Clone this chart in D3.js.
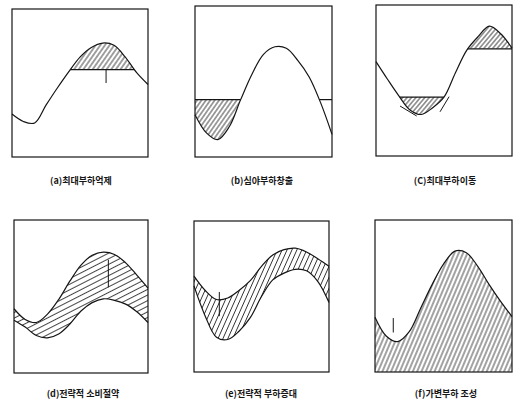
<!DOCTYPE html>
<html><head><meta charset="utf-8">
<script src="https://cdn.jsdelivr.net/npm/d3@7"></script>
<style>html,body{margin:0;padding:0;background:#fff;} svg{display:block}</style>
</head><body>
<svg id="c" width="515" height="402"></svg>
<script>
// ---- data (hour of day, relative load 0..1) ----
const hours = [0,2,4,6,8,10,12,14,16,18,20,22,24];
const labels = ["(a)최대부하억제","(b)심야부하창출","(C)최대부하이동","(d)전략적 소비절약","(e)전략적 부하증대","(f)가변부하 조성"];
const loadA = [0.29,0.24,0.23,0.35,0.466,0.575,0.675,0.74,0.77,0.755,0.675,0.57,0.49];
const levelA = [0.59];
const loadB = [0.28,0.16,0.115,0.2,0.38,0.55,0.68,0.73,0.72,0.64,0.53,0.36,0.15];
const levelB = [0.38];
const loadC = [0.625,0.51,0.40,0.305,0.275,0.32,0.39,0.55,0.70,0.79,0.86,0.81,0.715];
const levelC = [0.39,0.71];
const markC = [[4.24,0.331,7.18,0.265],[11.3,0.293,12.9,0.393]];
const upperD = [0.42,0.35,0.33,0.385,0.48,0.60,0.705,0.77,0.79,0.775,0.72,0.64,0.555];
const lowerD = [0.345,0.30,0.245,0.23,0.255,0.32,0.405,0.46,0.485,0.475,0.45,0.40,0.33];
const markD = [[16.9,0.74,16.9,0.56]];
const upperE = [0.635,0.54,0.48,0.49,0.54,0.605,0.70,0.775,0.81,0.82,0.795,0.75,0.70];
const lowerE = [0.57,0.37,0.23,0.215,0.27,0.36,0.50,0.61,0.655,0.68,0.67,0.60,0.46];
const markE = [[4.5,0.53,4.5,0.37]];
const loadF = [0.36,0.235,0.20,0.265,0.42,0.575,0.71,0.795,0.785,0.695,0.575,0.465,0.365];
const markF = [[3.2,0.355,3.2,0.26]];
const markA = [[16.6,0.59,16.6,0.50]];

// ---- drawing ----
const svg = d3.select("#c");
const defs = svg.append("defs");
const INK = "#151515";
const curve = d3.curveCatmullRom.alpha(0.5);

function hatch(id, angle, gap, w){
  const p = defs.append("pattern").attr("id",id).attr("patternUnits","userSpaceOnUse")
    .attr("width",gap).attr("height",gap).attr("patternTransform",`rotate(${90-angle})`);
  p.append("line").attr("x1",gap/2).attr("y1",-1).attr("x2",gap/2).attr("y2",gap+1)
    .attr("stroke",INK).attr("stroke-width",w);
}
hatch("hA",55,3.8,0.8);
hatch("hB",55,3.6,0.8);
hatch("hC",50,3.4,0.8);
hatch("hD",27,5.0,0.8);
hatch("hE",66,4.5,0.8);
hatch("hF",67,4.0,0.8);

function panel(box){
  const [bx,by,bw,bh] = box;
  const g = svg.append("g").attr("transform",`translate(${bx},${by})`);
  const x = d3.scaleLinear().domain([0,24]).range([0,bw]);
  const y = d3.scaleLinear().domain([0,1]).range([bh,0]);
  return {g,x,y,bw,bh};
}
function lineGen(P){ return d3.line().x((d,i)=>P.x(hours[i])).y(d=>P.y(d)).curve(curve); }
function sample(P, data){
  const p = P.g.append("path").attr("d", lineGen(P)(data));
  const n = p.node(), L = n.getTotalLength(), pts = [];
  for(let k=0;k<=600;k++){ const q = n.getPointAtLength(L*k/600); pts.push([q.x,q.y]); }
  p.remove();
  return pts;
}
function intervals(pts, yL, above){
  const cond = p => above ? p[1] < yL : p[1] > yL;
  const res = []; let start = cond(pts[0]) ? pts[0][0] : null;
  for(let i=1;i<pts.length;i++){
    const a = pts[i-1], b = pts[i];
    if(cond(a)!==cond(b)){
      const t = (yL-a[1])/(b[1]-a[1]); const xc = a[0]+t*(b[0]-a[0]);
      if(start===null) start = xc; else { res.push([start,xc]); start=null; }
    }
  }
  if(start!==null) res.push([start, pts[pts.length-1][0]]);
  return res;
}
let clipN = 0;
function levelHatch(P, data, level, above, pat, filt){
  const yL = P.y(level);
  const pts = sample(P, data);
  const ivs = intervals(pts, yL, above);
  const hiv = ivs.filter(filt || (()=>true));
  const id = "cl"+(clipN++);
  const cp = defs.append("clipPath").attr("id",id);
  hiv.forEach(([a,b])=>cp.append("rect").attr("x",a).attr("width",b-a)
    .attr("y", above?0:yL).attr("height", above?yL:P.bh-yL));
  const area = d3.area().x((d,i)=>P.x(hours[i])).y0(yL).y1(d=>P.y(d)).curve(curve);
  P.g.append("path").attr("d",area(data)).attr("fill",`url(#${pat})`).attr("clip-path",`url(#${id})`);
  return ivs;
}
function drawCurve(P, data){
  P.g.append("path").attr("d",lineGen(P)(data)).attr("fill","none").attr("stroke",INK).attr("stroke-width",1.2);
}
function drawLevel(P, level, ivs){
  ivs.forEach(([a,b])=>P.g.append("line").attr("x1",a).attr("x2",b).attr("y1",P.y(level)).attr("y2",P.y(level))
    .attr("stroke",INK).attr("stroke-width",1.2));
}
function marks(P, arr){
  arr.forEach(m=>P.g.append("line").attr("x1",P.x(m[0])).attr("y1",P.y(m[1])).attr("x2",P.x(m[2])).attr("y2",P.y(m[3]))
    .attr("stroke",INK).attr("stroke-width",1));
}
function frame(P){
  P.g.append("rect").attr("x",0).attr("y",0).attr("width",P.bw).attr("height",P.bh)
    .attr("fill","none").attr("stroke",INK).attr("stroke-width",1.2);
}
function band(P, up, lo, pat){
  const area = d3.area().x((d,i)=>P.x(hours[i])).y0((d,i)=>P.y(lo[i])).y1(d=>P.y(d)).curve(curve);
  P.g.append("path").attr("d",area(up)).attr("fill",`url(#${pat})`);
}

// (a)
{ const P = panel([12,9,136,148]);
  const iv = levelHatch(P, loadA, levelA[0], true, "hA");
  drawCurve(P, loadA); drawLevel(P, levelA[0], iv); marks(P, markA); frame(P); }
// (b)
{ const P = panel([195,6,137,151]);
  const iv = levelHatch(P, loadB, levelB[0], false, "hB", d=>d[1] < P.x(12));
  drawCurve(P, loadB); drawLevel(P, levelB[0], iv); frame(P); }
// (c)
{ const P = panel([376,5,136,151]);
  const iv1 = levelHatch(P, loadC, levelC[0], false, "hC");
  const iv2 = levelHatch(P, loadC, levelC[1], true, "hC");
  drawCurve(P, loadC); drawLevel(P, levelC[0], iv1); drawLevel(P, levelC[1], iv2);
  marks(P, markC); frame(P); }
// (d)
{ const P = panel([14,220,134,153]);
  band(P, upperD, lowerD, "hD");
  drawCurve(P, upperD); drawCurve(P, lowerD); marks(P, markD); frame(P); }
// (e)
{ const P = panel([194,221,135,151]);
  band(P, upperE, lowerE, "hE");
  drawCurve(P, upperE); drawCurve(P, lowerE); marks(P, markE); frame(P); }
// (f)
{ const P = panel([375,220,137,152]);
  band(P, loadF, hours.map(()=>0), "hF");
  drawCurve(P, loadF); marks(P, markF); frame(P); }

// labels
const labelPos = [[81,184],[262,184],[445,184],[83,397],[261,397],[446,397]];
svg.selectAll("text.lab").data(labels).join("text").attr("class","lab")
  .attr("x",(d,i)=>labelPos[i][0]).attr("y",(d,i)=>labelPos[i][1])
  .attr("text-anchor","middle").attr("font-family","'Noto Sans CJK KR', sans-serif")
  .attr("font-size",9).attr("font-weight",700).attr("fill",INK).text(d=>d);
</script>
</body></html>
